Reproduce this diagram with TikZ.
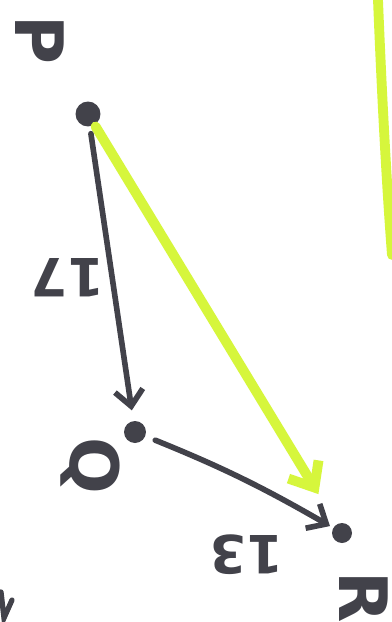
\documentclass[tikz,border=0pt]{standalone}
\usepackage{fontspec}
\setmainfont{DejaVu Sans}
\usetikzlibrary{arrows.meta}
\definecolor{ink}{RGB}{66,66,74}
\definecolor{hl}{RGB}{214,246,60}
\begin{document}
\begin{tikzpicture}[x=0.02cm,y=-0.02cm,
  dot/.style={circle,fill=ink,inner sep=0pt},
  inkarrow/.style={draw=ink,line width=3.2pt,line cap=round,
    -{Straight Barb[length=9pt,width=16pt,line width=3.2pt]}},
  hlarrow/.style={draw=hl,line width=5.6pt,line cap=round,
    -{Straight Barb[length=12pt,width=20pt,line width=5.6pt]}},
  lbl/.style={text=ink,font=\bfseries\fontsize{38}{38}\selectfont,inner sep=0pt},
  numlbl/.style={text=ink,font=\bfseries\fontsize{30}{30}\selectfont,inner sep=0pt}]
\fill[white] (0,0) rectangle (392,622);
\useasboundingbox (0,0) rectangle (392,622);
% points
\node[dot,minimum size=0.5cm] (P) at (88,114) {};
\node[dot,minimum size=0.44cm] (Q) at (135,432) {};
\node[dot,minimum size=0.4cm] (R) at (342,533) {};
% highlight
\draw[hlarrow,shorten <=1pt,shorten >=20pt] (P) -- (R);
\draw[hl,line width=5.6pt,line cap=round] (378,0) .. controls (382,100) and (387,190) .. (392,255);
% arrows
\draw[inkarrow,shorten <=4pt,shorten >=6pt] (P) -- (Q);
\draw[inkarrow,shorten <=6pt,shorten >=2pt] (Q) to[bend left=4] (R);
% labels
\node[lbl,rotate=-90] (lP) at (40,40) {P};
\node[lbl,rotate=-90] (lQ) at (90,466) {Q};
\node[lbl,rotate=-90] (lR) at (364,597) {R};
\node[numlbl,rotate=180] (l17) at (68,278) {17};
\node[numlbl,rotate=180] (l13) at (247,555) {13};
% partial mark bottom left
\draw[ink,line width=3pt,line cap=round] (1,592) -- (4,618) -- (12,600);
\end{tikzpicture}
\end{document}
